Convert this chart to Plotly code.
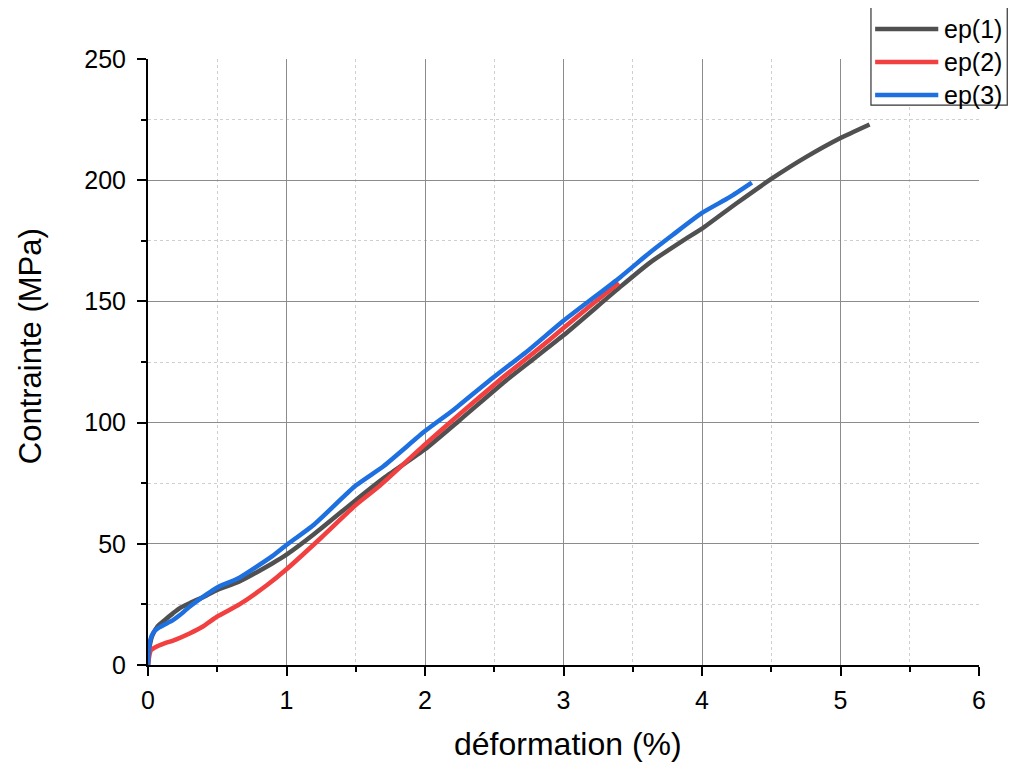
import plotly.graph_objects as go

# ep(1)
x1 = [0, 0.01, 0.03, 0.07, 0.12, 0.18, 0.23, 0.3, 0.42, 0.5, 0.66, 0.9, 1.0, 1.2, 1.5, 1.7,
      2.0, 2.25, 2.59, 2.8, 3.0, 3.41, 3.62, 3.86, 4.0, 4.25, 4.5, 4.75, 5.0, 5.21]
y1 = [0, 7, 12, 16, 18.5, 21.3, 23.5, 25.5, 28.6, 31, 34.5, 42, 45.5, 54, 68, 77,
      89, 101, 117.6, 127, 136, 156, 165.8, 175, 180, 190.5, 200.5, 209.5, 217.4, 223]

# ep(2)
x2 = [0, 0.01, 0.02, 0.06, 0.1, 0.2, 0.3, 0.4, 0.5, 0.66, 0.86, 1.0, 1.25, 1.5, 1.675,
      2.0, 2.25, 2.54, 2.8, 3.0, 3.2, 3.4]
y2 = [0, 4, 6, 7.5, 8.5, 10.5, 13, 16, 20, 25, 33, 39.5, 52.5, 66, 74,
      91, 103.5, 117.6, 129.5, 139, 148.5, 157.6]

# ep(3)
x3 = [0, 0.005, 0.015, 0.04, 0.08, 0.18, 0.23, 0.3, 0.42, 0.5, 0.66, 0.9, 1.0, 1.2, 1.5,
      1.7, 2.0, 2.2, 2.47, 2.75, 3.0, 3.41, 3.62, 3.79, 4.0, 4.2, 4.36]
y3 = [0, 5, 10, 13.5, 15.5, 18.5, 20.6, 24, 29, 32, 36, 45, 49.5, 58, 74,
      82, 96.5, 105, 117.6, 130, 142, 160, 170, 177.5, 186.5, 193, 199]

names = ["ep(1)", "ep(2)", "ep(3)"]
colors = ["#505050", "#F23F3F", "#1E6FE0"]

x_title = "déformation (%)"
y_title = "Contrainte (MPa)"

font_family = "Liberation Sans, Arial, Helvetica, sans-serif"

fig = go.Figure()
for xs, ys, nm, c in zip([x1, x2, x3], [y1, y2, y3], names, colors):
    fig.add_trace(go.Scatter(x=xs, y=ys, mode="lines", name=nm,
                             line=dict(color=c, width=4.5, shape="spline", smoothing=0.5),
                             showlegend=False))

# Legend box drawn in paper coordinates (long line samples as in the original)
fig.add_shape(type="rect", xref="paper", yref="paper",
              x0=0.870, x1=1.034, y0=0.924, y1=1.0858,
              line=dict(color="#333333", width=1.2), fillcolor="white", layer="above")
legend_y = [1.0495, 0.995, 0.9406]
for nm, c, ly in zip(names, colors, legend_y):
    fig.add_shape(type="line", xref="paper", yref="paper",
                  x0=0.875, x1=0.951, y0=ly, y1=ly,
                  line=dict(color=c, width=4.5), layer="above")
    fig.add_annotation(xref="paper", yref="paper", x=0.956, y=ly, text=nm,
                       showarrow=False, xanchor="left", yanchor="middle",
                       font=dict(size=25, family=font_family, color="black"))

# axis titles placed as in the original
fig.add_annotation(xref="paper", yref="paper", x=-0.142, y=0.526, text=y_title,
                   textangle=-90, showarrow=False, xanchor="center", yanchor="middle",
                   font=dict(size=31, family=font_family, color="black"))
fig.add_annotation(xref="paper", yref="paper", x=0.506, y=-0.1304, text=x_title,
                   showarrow=False, xanchor="center", yanchor="middle",
                   font=dict(size=32, family=font_family, color="black"))

fig.update_layout(
    width=1016, height=756,
    margin=dict(l=140, r=45, t=51, b=99, autoexpand=False),
    paper_bgcolor="white", plot_bgcolor="white",
    font=dict(family=font_family, color="black", size=24),
    showlegend=False,
)

fig.update_xaxes(
    range=[0, 6], dtick=1, showline=True, linecolor="black", linewidth=2,
    ticks="outside", ticklen=9, tickwidth=2, tickcolor="black",
    showgrid=True, gridcolor="#8c8c8c", gridwidth=1, zeroline=False,
    minor=dict(dtick=0.5, ticks="outside", ticklen=5, tickwidth=2, tickcolor="black",
               showgrid=True, gridcolor="#cfcfcf", griddash="dot", gridwidth=1),
    tickfont=dict(size=25), ticklabelstandoff=3, automargin=False,
)
fig.update_yaxes(
    range=[0, 250], dtick=50, showline=True, linecolor="black", linewidth=2,
    ticks="outside", ticklen=9, tickwidth=2, tickcolor="black",
    showgrid=True, gridcolor="#8c8c8c", gridwidth=1, zeroline=False,
    minor=dict(dtick=25, ticks="outside", ticklen=5, tickwidth=2, tickcolor="black",
               showgrid=True, gridcolor="#cfcfcf", griddash="dot", gridwidth=1),
    tickfont=dict(size=25), ticklabelstandoff=6, automargin=False,
)

fig.write_html("out.html")
